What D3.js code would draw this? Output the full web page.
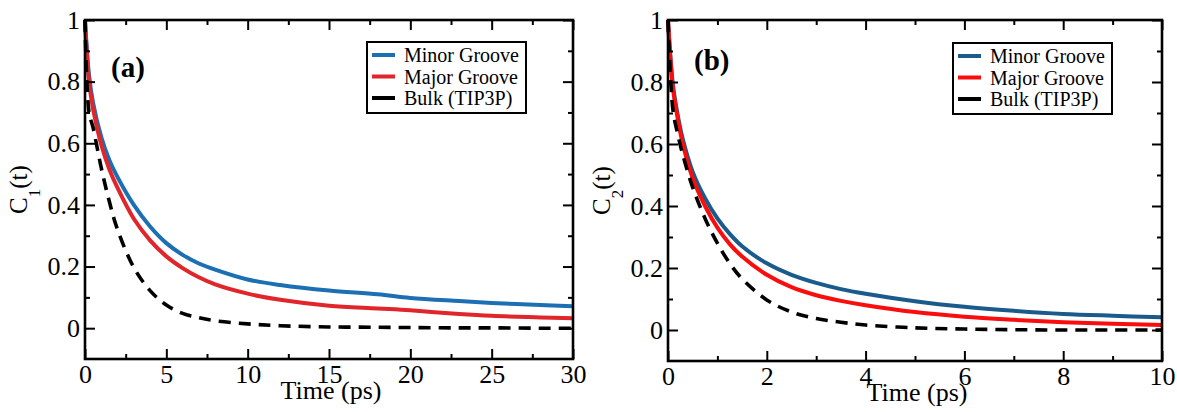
<!DOCTYPE html>
<html>
<head>
<meta charset="utf-8">
<script src="https://cdn.jsdelivr.net/npm/d3@7"></script>
</head>
<body style="margin:0">
<svg id="chart" width="1177" height="412"></svg>
<script>
// Panel (a): first-rank reorientational correlation C1(t), 0–30 ps
const timeA = [0, 0.25, 0.5, 1, 1.5, 2, 3, 4, 5, 6, 7, 8, 10, 12, 15, 18, 20, 23, 25, 28, 30];
const minorA = [1.0, 0.82, 0.73, 0.62, 0.545, 0.49, 0.40, 0.33, 0.276, 0.238, 0.21, 0.19, 0.158, 0.14, 0.122, 0.11, 0.098, 0.088, 0.082, 0.075, 0.071];
const majorA = [1.0, 0.80, 0.71, 0.595, 0.515, 0.455, 0.355, 0.285, 0.233, 0.195, 0.165, 0.142, 0.112, 0.092, 0.073, 0.064, 0.058, 0.046, 0.04, 0.035, 0.032];
const bulkA  = [1.0, 0.70, 0.65, 0.52, 0.41, 0.32, 0.197, 0.122, 0.075, 0.048, 0.034, 0.024, 0.014, 0.008, 0.004, 0.003, 0.002, 0.001, 0.001, 0.0, 0.0];

// Panel (b): second-rank reorientational correlation C2(t), 0–10 ps
const timeB = [0, 0.1, 0.2, 0.3, 0.5, 0.75, 1, 1.25, 1.5, 2, 2.5, 3, 3.5, 4, 5, 6, 7, 8, 9, 10];
const minorB = [1.0, 0.79, 0.69, 0.615, 0.51, 0.425, 0.36, 0.31, 0.27, 0.215, 0.178, 0.152, 0.132, 0.117, 0.093, 0.075, 0.062, 0.052, 0.046, 0.041];
const majorB = [1.0, 0.78, 0.68, 0.60, 0.49, 0.40, 0.33, 0.277, 0.237, 0.178, 0.138, 0.112, 0.094, 0.08, 0.058, 0.043, 0.033, 0.025, 0.02, 0.016];
const bulkB  = [1.0, 0.71, 0.63, 0.565, 0.46, 0.36, 0.28, 0.215, 0.165, 0.097, 0.058, 0.037, 0.025, 0.016, 0.007, 0.003, 0.001, 0.0, 0.0, 0.0];

const seriesNames = ["Minor Groove", "Major Groove", "Bulk (TIP3P)"];
const yMajorTicks = [0, 0.2, 0.4, 0.6, 0.8, 1];
const yMinorTicks = [0.1, 0.3, 0.5, 0.7, 0.9];
const xMajorTicksA = [0, 5, 10, 15, 20, 25, 30];
const xMinorTicksA = [2.5, 7.5, 12.5, 17.5, 22.5, 27.5];
const xMajorTicksB = [0, 2, 4, 6, 8, 10];
const xMinorTicksB = [1, 3, 5, 7, 9];

const SERIF = '"Liberation Serif"';
const svg = d3.select("#chart");

function drawPanel(cfg) {
  const { left, right, top, bottom } = cfg.box;
  const x = d3.scaleLinear().domain(cfg.xDomain).range([left, right]);
  const y = d3.scaleLinear().domain([-0.1, 1]).range([bottom, top]);
  const g = svg.append("g");

  // series curves
  const line = d3.line().x(d => x(d[0])).y(d => y(d[1])).curve(d3.curveCatmullRom.alpha(0.5));
  cfg.series.forEach(s => {
    g.append("path")
      .datum(cfg.time.map((t, i) => [t, s.values[i]]))
      .attr("d", line)
      .attr("fill", "none")
      .attr("stroke", s.color)
      .attr("stroke-width", s.width)
      .attr("stroke-dasharray", s.dash || null)
      .attr("stroke-linecap", "butt")
      .attr("stroke-linejoin", "round");
  });

  const fontSize = 26;
  const styleAxis = sel => {
    sel.attr("font-family", null);
    sel.select(".domain").remove();
    sel.selectAll(".tick line").attr("stroke", "#000").attr("stroke-width", 2);
    sel.selectAll(".tick text").attr("fill", "#000").attr("font-size", fontSize);
  };

  // bottom axis with labels, major + minor inward ticks
  g.append("g").attr("transform", `translate(0,${bottom})`)
    .call(d3.axisBottom(x).tickValues(cfg.xMajor).tickSize(-10).tickPadding(6).tickFormat(d3.format("d")))
    .call(styleAxis);
  g.append("g").attr("transform", `translate(0,${bottom})`)
    .call(d3.axisBottom(x).tickValues(cfg.xMinor).tickSize(-5).tickFormat(""))
    .call(styleAxis);
  // top mirror ticks
  g.append("g").attr("transform", `translate(0,${top})`)
    .call(d3.axisTop(x).tickValues(cfg.xMajor).tickSize(-10).tickFormat(""))
    .call(styleAxis);
  g.append("g").attr("transform", `translate(0,${top})`)
    .call(d3.axisTop(x).tickValues(cfg.xMinor).tickSize(-5).tickFormat(""))
    .call(styleAxis);
  // left axis with labels
  g.append("g").attr("transform", `translate(${left},0)`)
    .call(d3.axisLeft(y).tickValues(yMajorTicks).tickSize(-10).tickPadding(5).tickFormat(d3.format("~g")))
    .call(styleAxis);
  g.append("g").attr("transform", `translate(${left},0)`)
    .call(d3.axisLeft(y).tickValues(yMinorTicks).tickSize(-5).tickFormat(""))
    .call(styleAxis);
  // right mirror ticks
  g.append("g").attr("transform", `translate(${right},0)`)
    .call(d3.axisRight(y).tickValues(yMajorTicks).tickSize(-10).tickFormat(""))
    .call(styleAxis);
  g.append("g").attr("transform", `translate(${right},0)`)
    .call(d3.axisRight(y).tickValues(yMinorTicks).tickSize(-5).tickFormat(""))
    .call(styleAxis);

  // frame
  g.append("rect")
    .attr("x", left).attr("y", top)
    .attr("width", right - left).attr("height", bottom - top)
    .attr("fill", "none").attr("stroke", "#000").attr("stroke-width", 2.6);

  // x-axis title
  g.append("text")
    .attr("x", (left + right) / 2 + 2).attr("y", bottom + 40)
    .attr("text-anchor", "middle").attr("font-size", fontSize)
    .text("Time (ps)");

  // y-axis title C_n(t) with lowered subscript
  const yt = g.append("text")
    .attr("transform", `translate(${left - 58},${(top + bottom) / 2}) rotate(-90)`)
    .attr("text-anchor", "middle").attr("font-size", 25);
  yt.append("tspan").text("C");
  yt.append("tspan").attr("font-size", 17).attr("dy", 13).text(cfg.sub);
  yt.append("tspan").attr("dy", -13).text("(t)");

  // panel tag
  g.append("text")
    .attr("x", cfg.tag.x).attr("y", cfg.tag.y)
    .attr("font-size", 29).attr("font-weight", "bold")
    .text(cfg.tag.text);

  // legend
  const L = cfg.legend;
  g.append("rect")
    .attr("x", L.x).attr("y", L.y).attr("width", 159).attr("height", 71)
    .attr("fill", "#fff").attr("stroke", "#000").attr("stroke-width", 2);
  cfg.series.forEach((s, i) => {
    const cy = L.y + 13 + i * 21.5;
    g.append("line")
      .attr("x1", L.x + 5).attr("x2", L.x + 28)
      .attr("y1", cy).attr("y2", cy)
      .attr("stroke", s.color).attr("stroke-width", 4);
    g.append("text")
      .attr("x", L.x + 37).attr("y", cy + 7)
      .attr("font-size", 20)
      .text(seriesNames[i]);
  });
}

drawPanel({
  box: { left: 85, right: 573, top: 20, bottom: 359 },
  xDomain: [0, 30],
  xMajor: xMajorTicksA, xMinor: xMinorTicksA,
  time: timeA,
  series: [
    { values: minorA, color: "#1c6fb3", width: 4 },
    { values: majorA, color: "#e0262a", width: 4 },
    { values: bulkA, color: "#000", width: 3.6, dash: "12,8" }
  ],
  sub: "1",
  tag: { text: "(a)", x: 111, y: 77 },
  legend: { x: 367, y: 42 }
});

drawPanel({
  box: { left: 668, right: 1162, top: 20, bottom: 361 },
  xDomain: [0, 10],
  xMajor: xMajorTicksB, xMinor: xMinorTicksB,
  time: timeB,
  series: [
    { values: minorB, color: "#1a5b8c", width: 4 },
    { values: majorB, color: "#fa0d0d", width: 4 },
    { values: bulkB, color: "#000", width: 3.6, dash: "12,8" }
  ],
  sub: "2",
  tag: { text: "(b)", x: 694, y: 70 },
  legend: { x: 953, y: 43 }
});

// serif face for every label
svg.selectAll("text").style("font-family", SERIF);
</script>
</body>
</html>
